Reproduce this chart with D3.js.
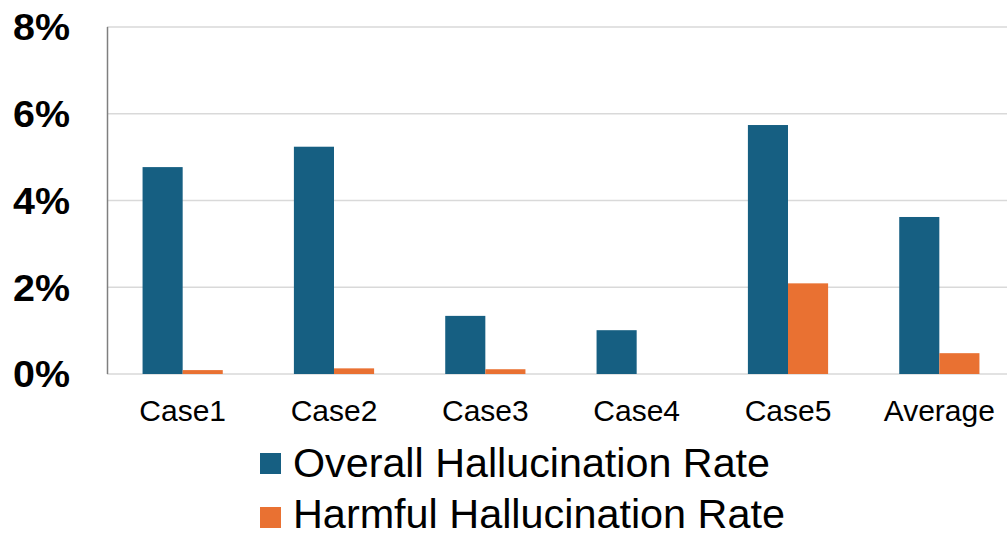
<!DOCTYPE html>
<html>
<head>
<meta charset="utf-8">
<script src="https://cdn.jsdelivr.net/npm/d3@7"></script>
<style>
  body { margin: 0; background: #fff; }
  text { font-family: "Liberation Sans", Arial, sans-serif; }
</style>
</head>
<body>
<svg id="canvas" width="1007" height="536"></svg>
<script>
const categories = ["Case1", "Case2", "Case3", "Case4", "Case5", "Average"];
const seriesNames = ["Overall Hallucination Rate", "Harmful Hallucination Rate"];
const overallRate = [4.77, 5.24, 1.34, 1.01, 5.74, 3.62];
const harmfulRate = [0.09, 0.13, 0.11, 0.0, 2.09, 0.48];
const yTicks = [0, 2, 4, 6, 8];
const colors = ["#165F82", "#E97132"];

const canvas = d3.select("#canvas");

const x = d3.scaleBand().domain(categories).range([107, 1015]).paddingInner(0).paddingOuter(0);
const y = d3.scaleLinear().domain([0, 8]).range([374, 27]);

// group width ~80 of 151 per category
const groupW = x.bandwidth() * 0.53;
const x1 = d3.scaleBand().domain([0, 1]).range([0, groupW]);

// gridlines
canvas.append("g")
    .selectAll("line")
    .data(yTicks)
    .enter()
    .append("line")
    .attr("x1", 107)
    .attr("x2", 1015)
    .attr("y1", (d) => y(d))
    .attr("y2", (d) => y(d))
    .attr("stroke", "#D9D9D9")
    .attr("stroke-width", 1.5);

// y tick labels
canvas.append("g")
    .selectAll("text")
    .data(yTicks)
    .enter()
    .append("text")
    .attr("x", 70)
    .attr("y", (d) => y(d))
    .attr("dy", "0.36em")
    .attr("text-anchor", "end")
    .attr("font-size", 37)
    .attr("font-weight", "bold")
    .attr("fill", "#000")
    .attr("textLength", 57)
    .attr("lengthAdjust", "spacingAndGlyphs")
    .text((d) => d + "%");

// bars
const series = [overallRate, harmfulRate];
series.forEach((values, si) => {
    canvas.append("g")
        .selectAll("rect")
        .data(values)
        .enter()
        .append("rect")
        .attr("x", (d, i) => x(categories[i]) + (x.bandwidth() - groupW) / 2 + x1(si))
        .attr("y", (d) => y(d))
        .attr("width", x1.bandwidth())
        .attr("height", (d) => y(0) - y(d))
        .attr("fill", colors[si]);
});

// left axis line
canvas.append("line")
    .attr("x1", 107.5).attr("x2", 107.5)
    .attr("y1", y(8)).attr("y2", y(0))
    .attr("stroke", "#7F7F7F")
    .attr("stroke-width", 1.5);

// x labels
canvas.append("g")
    .selectAll("text")
    .data(categories)
    .enter()
    .append("text")
    .attr("x", (d) => x(d) + x.bandwidth() / 2)
    .attr("y", 421)
    .attr("text-anchor", "middle")
    .attr("font-size", 30)
    .attr("fill", "#000")
    .text((d) => d);

// legend
const legendWidths = [477, 492];
const legend = canvas.append("g")
    .selectAll("g")
    .data(seriesNames)
    .enter()
    .append("g")
    .attr("transform", (d, i) => "translate(260," + (453 + i * 54) + ")");

legend.append("rect")
    .attr("width", 21)
    .attr("height", 21)
    .attr("fill", (d, i) => colors[i]);

legend.append("text")
    .attr("x", 33)
    .attr("y", (d, i) => i === 0 ? 24 : 21)
    .attr("font-size", 40)
    .attr("fill", "#000")
    .attr("textLength", (d, i) => legendWidths[i])
    .attr("lengthAdjust", "spacingAndGlyphs")
    .text((d) => d);
</script>
</body>
</html>
